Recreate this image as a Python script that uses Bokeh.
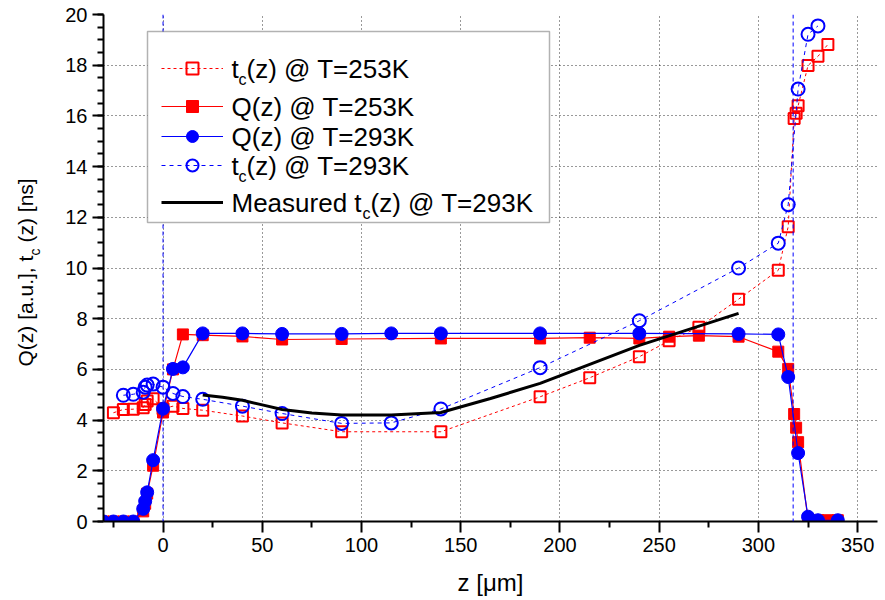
import math
from bokeh.plotting import figure
from bokeh.layouts import row
from bokeh.models import Span, Label, BoxAnnotation, Legend, LegendItem, FixedTicker
from bokeh.embed import file_html
from bokeh.resources import INLINE

# ---------------- data ----------------
z_tc253 = [-25, -20, -15, -10, -9, -8, -5, 0, 5, 10, 20, 40, 60, 90, 140, 190, 215, 240,
           255, 270, 290, 310, 315, 318, 319, 320, 325, 330, 335]
tc253 = [4.29, 4.42, 4.43, 4.49, 4.62, 4.75, 4.84, 4.45, 4.55, 4.46, 4.39, 4.16, 3.89, 3.54,
         3.54, 4.92, 5.67, 6.50, 7.13, 7.66, 8.77, 9.91, 11.63, 15.9, 16.1, 16.4, 17.99,
         18.35, 18.82]

z_q253 = [-30, -25, -20, -15, -10, -9, -8, -5, 0, 5, 10, 20, 40, 60, 90, 140, 190, 215, 240,
          255, 270, 290, 310, 315, 318, 319, 320, 325, 330, 335, 340]
q253 = [0, 0, 0, 0, 0.4, 0.7, 1.1, 2.2, 4.3, 6.0, 7.38, 7.35, 7.3, 7.18, 7.2, 7.22, 7.22,
        7.25, 7.22, 7.29, 7.33, 7.29, 6.7, 6.02, 4.24, 3.7, 3.13, 0.05, 0.05, 0.05, 0.05]

z_q293 = [-30, -25, -20, -15, -10, -9, -8, -5, 0, 5, 10, 20, 40, 60, 90, 115, 140, 190, 240,
          290, 310, 315, 320, 325, 330, 340]
q293 = [0, 0, 0, 0, 0.5, 0.8, 1.15, 2.42, 4.45, 6.02, 6.08, 7.42, 7.42, 7.4, 7.4, 7.42, 7.42,
        7.42, 7.42, 7.4, 7.38, 5.7, 2.7, 0.19, 0.05, 0.05]

z_tc293 = [-20, -15, -10, -9, -8, -5, 0, 5, 10, 20, 40, 60, 90, 115, 140, 190, 240, 290, 310,
           315, 320, 325, 330]
tc293 = [4.98, 5.02, 5.1, 5.3, 5.38, 5.42, 5.3, 5.05, 4.93, 4.82, 4.55, 4.26, 3.87, 3.89, 4.44,
         6.07, 7.92, 10.0, 10.98, 12.5, 17.06, 19.22, 19.55]

z_meas = [20, 30, 40, 50, 60, 75, 90, 115, 140, 165, 190, 240, 290]
meas = [4.99, 4.9, 4.78, 4.6, 4.42, 4.28, 4.2, 4.2, 4.3, 4.85, 5.45, 6.95, 8.21]

boundaries = [0, 317.5]

x_major = [0, 50, 100, 150, 200, 250, 300, 350]
x_minor = [-25, 25, 75, 125, 175, 225, 275, 325]
y_major = [0, 2, 4, 6, 8, 10, 12, 14, 16, 18, 20]
y_minor = [k * 0.5 for k in range(0, 41)]

FONT = "Liberation Sans"
RED = "#ff0000"
BLUE = "#0000ff"
INK = "#000000"
FB = 521  # frame bottom (screen px) shared by both aligned frames

# ---------- narrow strip holding the rotated y-axis title ----------
LW = 50
pl = figure(width=LW, height=600, x_range=(0, 1), y_range=(0, 1), output_backend="svg",
            toolbar_location=None, x_axis_type=None, y_axis_type=None, min_border=0)
pl.outline_line_color = None
pl.add_layout(Label(x=25, y=FB - 366, x_units="screen", y_units="screen",
                    text="Q(z) [a.u.], t", text_font=FONT, text_font_size="21px",
                    text_color=INK, angle=math.pi / 2, text_align="left",
                    text_baseline="middle"))
pl.add_layout(Label(x=34, y=FB - 255, x_units="screen", y_units="screen",
                    text="c", text_font=FONT, text_font_size="14px", text_color=INK,
                    angle=math.pi / 2, text_align="left", text_baseline="middle"))
pl.add_layout(Label(x=25, y=FB - 242, x_units="screen", y_units="screen",
                    text="(z) [ns]", text_font=FONT, text_font_size="21px", text_color=INK,
                    angle=math.pi / 2, text_align="left", text_baseline="middle"))

# ---------- main chart ----------
p = figure(width=885 - LW, height=600, x_range=(-30, 360), y_range=(0, 20),
           output_backend="svg", toolbar_location=None,
           min_border_left=103 - LW, min_border_right=8, min_border_top=14,
           min_border_bottom=79)
p.outline_line_color = None
p.background_fill_color = "white"

for ax in (p.xaxis[0], p.yaxis[0]):
    ax.axis_line_width = 2
    ax.axis_line_color = "black"
    ax.major_tick_line_width = 2
    ax.minor_tick_line_width = 2
    ax.major_tick_out = 11
    ax.major_tick_in = 0
    ax.minor_tick_out = 6
    ax.minor_tick_in = 0
    ax.major_label_text_font = FONT
    ax.major_label_text_font_size = "20px"
    ax.major_label_text_color = INK
    ax.major_label_standoff = 5

p.xaxis.ticker = FixedTicker(ticks=x_major, minor_ticks=x_minor)
p.yaxis.ticker = FixedTicker(ticks=y_major, minor_ticks=y_minor)
p.xaxis.axis_label = "z [\u03bcm]"
p.xaxis.axis_label_text_font = FONT
p.xaxis.axis_label_text_font_size = "24px"
p.xaxis.axis_label_text_font_style = "normal"
p.xaxis.axis_label_text_color = INK
p.xaxis.axis_label_standoff = 14

p.xgrid.ticker = FixedTicker(ticks=x_major)
p.ygrid.ticker = FixedTicker(ticks=y_major[1:-1])
for g in (p.xgrid[0], p.ygrid[0]):
    g.grid_line_color = "black"
    g.grid_line_dash = "1 3"
    g.grid_line_width = 1
    g.grid_line_alpha = 0.8

# series
l1 = p.line(z_tc253, tc253, line_color=RED, line_dash="3 3", line_width=1)
s1 = p.scatter(z_tc253, tc253, marker="square", size=11, fill_color="white", fill_alpha=0,
               line_color=RED, line_width=2)
l2 = p.line(z_q253, q253, line_color=RED, line_width=1.2)
s2 = p.scatter(z_q253, q253, marker="square", size=11, fill_color=RED, line_color=RED)
l3 = p.line(z_q293, q293, line_color=BLUE, line_width=1.2)
s3 = p.scatter(z_q293, q293, marker="circle", size=13, fill_color=BLUE, line_color=BLUE)
l4 = p.line(z_tc293, tc293, line_color=BLUE, line_dash="4 4", line_width=1)
s4 = p.scatter(z_tc293, tc293, marker="circle", size=13, fill_color="white", fill_alpha=0,
               line_color=BLUE, line_width=2)
l5 = p.line(z_meas, meas, line_color="black", line_width=3)

for b in boundaries:
    p.add_layout(Span(location=b, dimension="height", line_color=BLUE, line_dash="4 3",
                      line_width=1))

# legend frame (white box)
box = BoxAnnotation(left=147 - 103, right=549 - 103, top=FB - 31, bottom=FB - 222,
                    left_units="screen", right_units="screen", top_units="screen",
                    bottom_units="screen", fill_color="white", fill_alpha=1,
                    line_color="black", line_width=1.5)
p.add_layout(box)

entries = [
    ([l1, s1], 68, ["t", "c", "(z) @ T=253K"]),
    ([l2, s2], 106, ["Q(z) @ T=253K"]),
    ([l3, s3], 136, ["Q(z) @ T=293K"]),
    ([l4, s4], 165, ["t", "c", "(z) @ T=293K"]),
    ([l5], 202, ["Measured t", "c", "(z) @ T=293K"]),
]
for rends, cy, parts in entries:
    leg = Legend(items=[LegendItem(label=" ", renderers=rends)],
                 location=(161 - 103, FB - (cy + 15)), glyph_width=62, glyph_height=30,
                 padding=0, margin=0, spacing=0, label_standoff=0,
                 label_text_font_size="1px", border_line_color=None,
                 background_fill_alpha=0)
    p.add_layout(leg, "center")
    if len(parts) == 1:
        p.add_layout(Label(x=231 - 103, y=FB - cy, x_units="screen", y_units="screen",
                           text=parts[0], text_font=FONT, text_font_size="26px",
                           text_color=INK, text_baseline="middle", text_align="left"))
    else:
        main, sub, rest = parts
        w_main = 7 if main == "t" else 131
        p.add_layout(Label(x=231 - 103, y=FB - cy, x_units="screen", y_units="screen",
                           text=main, text_font=FONT, text_font_size="26px",
                           text_color=INK, text_baseline="middle", text_align="left"))
        p.add_layout(Label(x=231 - 103 + w_main, y=FB - cy - 11, x_units="screen",
                           y_units="screen", text=sub, text_font=FONT,
                           text_font_size="16px", text_color=INK,
                           text_baseline="middle", text_align="left"))
        p.add_layout(Label(x=231 - 103 + w_main + 8, y=FB - cy, x_units="screen",
                           y_units="screen", text=rest, text_font=FONT,
                           text_font_size="26px", text_color=INK,
                           text_baseline="middle", text_align="left"))

layout = row(pl, p, spacing=0)
open("out.html", "w").write(file_html(layout, INLINE))
